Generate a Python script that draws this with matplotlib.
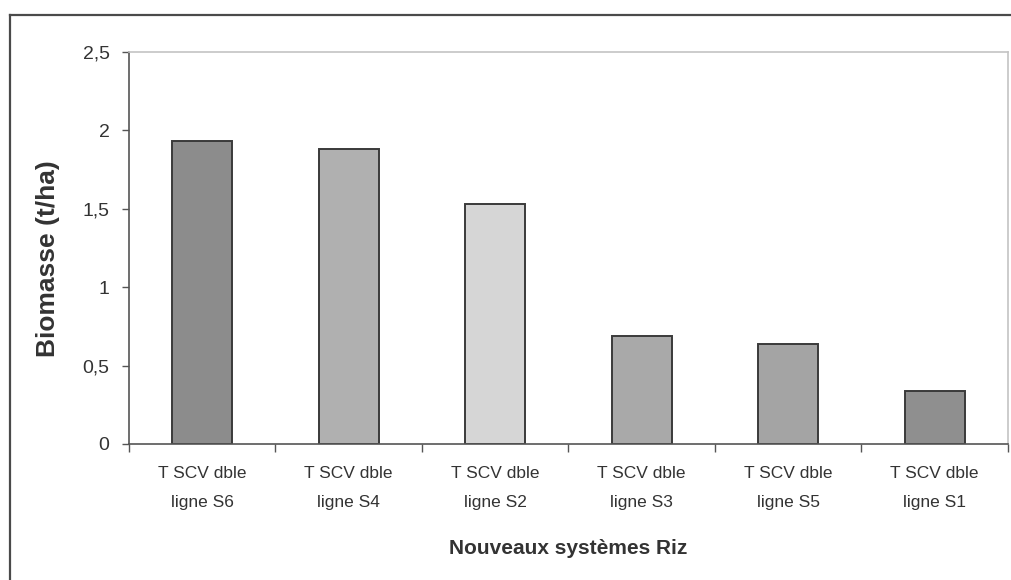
import matplotlib
matplotlib.use("Agg")
import matplotlib.pyplot as plt
from matplotlib.lines import Line2D
import numpy as np

# Daten
systemes = ["T SCV dble\nligne S6", "T SCV dble\nligne S4", "T SCV dble\nligne S2",
            "T SCV dble\nligne S3", "T SCV dble\nligne S5", "T SCV dble\nligne S1"]
biomasse = [1.93, 1.88, 1.53, 0.69, 0.64, 0.34]
couleurs = ["#8c8c8c", "#b0b0b0", "#d6d6d6", "#a9a9a9", "#a4a4a4", "#8f8f8f"]
y_ticks = [0, 0.5, 1, 1.5, 2, 2.5]
y_labels = ["0", "0,5", "1", "1,5", "2", "2,5"]

police = ["Liberation Sans", "DejaVu Sans"]
txt = "#333333"

fig = plt.figure(figsize=(10.11, 5.8), dpi=100)
ax = fig.add_axes([0.1276, 0.2345, 0.8694, 0.6758])

x = np.arange(len(systemes))
ax.bar(x, biomasse, width=0.41, color=couleurs, edgecolor="#3a3a3a", linewidth=1.4)

ax.set_xlim(-0.5, len(systemes) - 0.5)
ax.set_ylim(0, 2.5)

# Achsen
ax.set_yticks(y_ticks)
ax.set_yticklabels(y_labels, family=police, fontsize=14, color=txt)
ax.set_xticks(x)
ax.set_xticklabels(systemes, family=police, fontsize=12.5, color=txt, linespacing=2.15)
ax.tick_params(axis="x", length=0, pad=16)
ax.tick_params(axis="y", length=5, width=1, color="#555555", pad=9)
ax.set_xticks(np.arange(len(systemes) + 1) - 0.5, minor=True)
ax.tick_params(axis="x", which="minor", length=6, width=1, color="#555555")

for s in ["left", "bottom"]:
    ax.spines[s].set_color("#555555")
    ax.spines[s].set_linewidth(1.2)
for s in ["top", "right"]:
    ax.spines[s].set_color("#c4c4c4")
    ax.spines[s].set_linewidth(1.2)

ax.set_xlabel("Nouveaux systèmes Riz", family=police, fontsize=15, fontweight="bold",
              color=txt, labelpad=21)
ax.set_ylabel("Biomasse (t/ha)", family=police, fontsize=19, fontweight="bold", color=txt)
ax.yaxis.set_label_coords(-0.078, 0.472)

# Rahmen außen
fig.add_artist(Line2D([0.0099, 1.0], [0.974, 0.974], transform=fig.transFigure,
                      color="#4a4a4a", linewidth=1.6))
fig.add_artist(Line2D([0.0099, 0.0099], [0.0, 0.974], transform=fig.transFigure,
                      color="#4a4a4a", linewidth=1.6))

plt.savefig("out.png", dpi=100)
